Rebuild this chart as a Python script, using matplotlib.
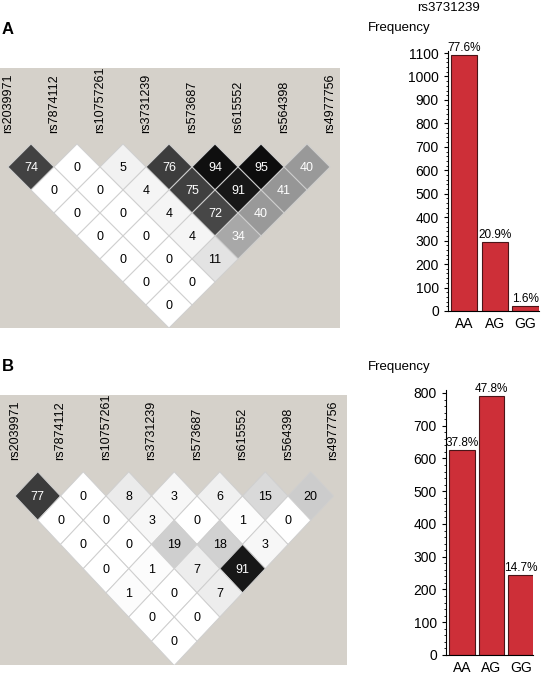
import matplotlib
matplotlib.use("Agg")
import matplotlib.pyplot as plt
from matplotlib.patches import Polygon
from matplotlib.ticker import MultipleLocator

plt.rcParams['font.family'] = ['Liberation Sans', 'DejaVu Sans']

W, H = 545, 677

# SNP names and pairwise LD values (rows: distance 1..7 between markers)
snps = ['rs2039971', 'rs7874112', 'rs10757261', 'rs3731239',
        'rs573687', 'rs615552', 'rs564398', 'rs4977756']

ld_a = [
    [74, 0, 5, 76, 94, 95, 40],
    [0, 0, 4, 75, 91, 41],
    [0, 0, 4, 72, 40],
    [0, 0, 4, 34],
    [0, 0, 11],
    [0, 0],
    [0],
]
ld_b = [
    [77, 0, 8, 3, 6, 15, 20],
    [0, 0, 3, 0, 1, 0],
    [0, 0, 19, 18, 3],
    [0, 1, 7, 91],
    [1, 0, 7],
    [0, 0],
    [0],
]

genotypes = ['AA', 'AG', 'GG']
counts_a = [1092, 294, 23]
pct_a = ['77.6%', '20.9%', '1.6%']
counts_b = [625, 790, 243]
pct_b = ['37.8%', '47.8%', '14.7%']

bg = '#d5d1ca'
bar_color = '#cd2f38'


def ax_px(fig, x0, y0, x1, y1):
    # pixel box (top-left origin) -> figure axes
    return fig.add_axes([x0 / W, 1 - y1 / H, (x1 - x0) / W, (y1 - y0) / H])


def ld_plot(ax, ld, xlim, ylim):
    ax.set_facecolor(bg)
    for d, row in enumerate(ld, start=1):
        for i, v in enumerate(row):
            j = i + d
            cx = (i + j) / 2
            cy = -(d - 1) * 0.5
            g = 1 - v / 100
            poly = Polygon([(cx - 0.5, cy), (cx, cy + 0.5), (cx + 0.5, cy), (cx, cy - 0.5)],
                           closed=True, facecolor=(g, g, g), edgecolor='#cfcfcf', lw=0.7)
            ax.add_patch(poly)
            ax.text(cx, cy - 0.02, str(v), ha='center', va='center', fontsize=9,
                    color='white' if v > 25 else 'black')
    for k, name in enumerate(snps):
        ax.text(k, 0.74, name, rotation=90, ha='center', va='bottom', fontsize=9)
    ax.set_xlim(*xlim)
    ax.set_ylim(*ylim)
    ax.set_xticks([])
    ax.set_yticks([])
    for s in ax.spines.values():
        s.set_visible(False)


def bar_plot(ax, counts, pct, xlim, ylim, major):
    x = range(len(genotypes))
    bars = ax.bar(x, counts, width=0.86, color=bar_color, edgecolor='#4a1518', lw=0.8)
    for b, p in zip(bars, pct):
        ax.text(b.get_x() + b.get_width() / 2, b.get_height() + ylim[1] * 0.004, p,
                ha='center', va='bottom', fontsize=8.5)
    ax.set_xticks(list(x))
    ax.set_xticklabels(genotypes, fontsize=10)
    ax.set_xlim(*xlim)
    ax.set_ylim(*ylim)
    ax.yaxis.set_major_locator(MultipleLocator(major))
    ax.yaxis.set_minor_locator(MultipleLocator(20))
    ax.tick_params(axis='y', which='major', labelsize=10, length=3, width=0.8)
    ax.tick_params(axis='y', which='minor', length=1.5, width=0.6)
    ax.tick_params(axis='x', length=0, pad=4)
    ax.spines['top'].set_visible(False)
    ax.spines['right'].set_visible(False)
    ax.spines['left'].set_linewidth(0.8)
    ax.spines['bottom'].set_linewidth(0.8)


fig = plt.figure(figsize=(W / 100, H / 100), dpi=100)

# panel A
ax1 = ax_px(fig, 0, 68, 340, 328)
ld_plot(ax1, ld_a, (-0.174, 7.217), (-3.5, 2.152))
ax2 = ax_px(fig, 448, 50.7, 539, 311)
bar_plot(ax2, counts_a, pct_a, (-0.52, 2.44), (0, 1110), 100)

# panel B
ax3 = ax_px(fig, 0, 395, 347, 665)
ld_plot(ax3, ld_b, (-0.33, 7.297), (-3.49, 2.087))
ax4 = ax_px(fig, 446, 389.7, 533, 655)
bar_plot(ax4, counts_b, pct_b, (-0.54, 2.41), (0, 810), 100)

fig.text(2 / W, 1 - 29 / H, 'A', fontsize=12, fontweight='bold', va='center')
fig.text(2 / W, 1 - 367 / H, 'B', fontsize=12, fontweight='bold', va='center')
fig.text(449 / W, 1 - 8 / H, 'rs3731239', fontsize=9.5, ha='center', va='center')
fig.text(368 / W, 1 - 28 / H, 'Frequency', fontsize=9.5, ha='left', va='center')
fig.text(368 / W, 1 - 367 / H, 'Frequency', fontsize=9.5, ha='left', va='center')

fig.savefig('out.png', dpi=100)
